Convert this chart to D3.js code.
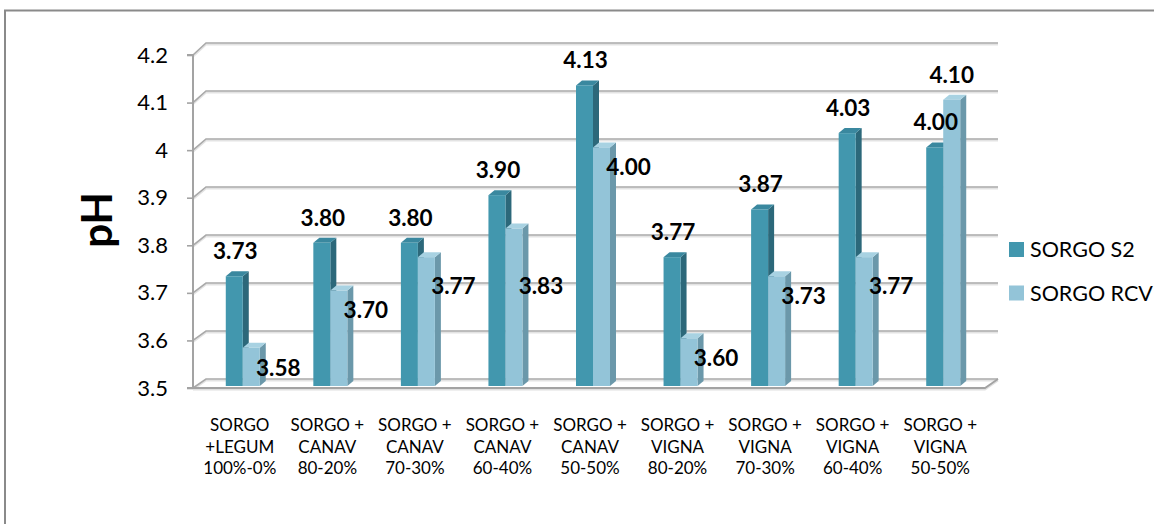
<!DOCTYPE html>
<html>
<head>
<meta charset="utf-8">
<script src="https://cdn.jsdelivr.net/npm/d3@7"></script>
<style>
  html, body { margin: 0; padding: 0; background: #fff; }
  svg { display: block; }
  text { font-family: Lato, "Open Sans", sans-serif; fill: #000; }
</style>
</head>
<body>
<svg id="chart" width="1154" height="524"></svg>
<script>
// Treatments (one entry per column group; lines of the axis label)
const categories = [
  ["SORGO", "+LEGUM", "100%-0%"],
  ["SORGO +", "CANAV", "80-20%"],
  ["SORGO +", "CANAV", "70-30%"],
  ["SORGO +", "CANAV", "60-40%"],
  ["SORGO +", "CANAV", "50-50%"],
  ["SORGO +", "VIGNA", "80-20%"],
  ["SORGO +", "VIGNA", "70-30%"],
  ["SORGO +", "VIGNA", "60-40%"],
  ["SORGO +", "VIGNA", "50-50%"]
];
const seriesNames = ["SORGO S2", "SORGO RCV"];
const s2Values  = [3.73, 3.80, 3.80, 3.90, 4.13, 3.77, 3.87, 4.03, 4.00];
const rcvValues = [3.58, 3.70, 3.77, 3.83, 4.00, 3.60, 3.73, 3.77, 4.10];
const yTicks = [3.5, 3.6, 3.7, 3.8, 3.9, 4.0, 4.1, 4.2];
const yTickLabels = ["3.5", "3.6", "3.7", "3.8", "3.9", "4", "4.1", "4.2"];
const yTitle = "pH";

const svg = d3.select("#chart");

// Outer chart border (top and left edges visible)
svg.append("path")
  .attr("d", "M5,524 V10.5 H1154")
  .attr("fill", "none").attr("stroke", "#8a8a8a").attr("stroke-width", 2);

// Oblique 3D frame: front plane and back wall
const frontX = 193, backX = 206, wallRight = 998, floorRight = 985;
const yFront = d3.scaleLinear().domain([3.5, 4.2]).range([388, 55]);
const yBack  = d3.scaleLinear().domain([3.5, 4.2]).range([379, 43]);
const yBar   = d3.scaleLinear().domain([3.5, 4.2]).range([386, 52]);
const x = d3.scaleBand().domain(d3.range(categories.length)).range([199, 987]);

const grid = svg.append("g").attr("fill", "none");
yTicks.forEach(t => {
  const d = `M${frontX},${yFront(t)} L${backX},${yBack(t)} H${wallRight}`;
  grid.append("path").attr("d", d).attr("transform", "translate(0,1.5)")
    .attr("stroke", "#e3e3e3").attr("stroke-width", 2);
  grid.append("path").attr("d", d).attr("stroke", "#a9a9a9").attr("stroke-width", 1.6);
});

// Floor front edge
const floorPath = `M${frontX},${yFront(3.5)} H${floorRight} L${wallRight},${yBack(3.5)}`;
grid.append("path").attr("d", floorPath).attr("transform", "translate(0,1.5)")
  .attr("stroke", "#e0e0e0").attr("stroke-width", 2);
grid.append("path").attr("d", floorPath).attr("stroke", "#a3a3a3").attr("stroke-width", 1.8);

// Vertical axis with ticks and labels
const axis = d3.axisLeft(yFront)
  .tickValues(yTicks)
  .tickFormat((d, i) => yTickLabels[i])
  .tickSize(6)
  .tickPadding(19);
const axisG = svg.append("g").attr("transform", `translate(${frontX},0)`).call(axis);
axisG.select(".domain").attr("stroke", "#a3a3a3").attr("stroke-width", 2)
  .attr("d", `M-6,${yFront(4.2)}H0V${yFront(3.5)}H-6`);
axisG.selectAll(".tick line").attr("stroke", "#a3a3a3").attr("stroke-width", 1.6);
axisG.selectAll(".tick text")
  .style("font-family", "Lato, sans-serif").style("font-size", "22px").attr("fill", "#000");

// Axis title
svg.append("text")
  .attr("transform", "translate(112,220) rotate(-90)")
  .attr("text-anchor", "middle")
  .style("font-size", "42px").style("font-weight", "bold")
  .text(yTitle);

// 3D columns
const barW = 17, depthX = 6, depthY = 5;
const palette = [
  { front: "#4297ae", side: "#2c687a", top: "#3a889f" },
  { front: "#93c4d8", side: "#6b98aa", top: "#a8d2e2" }
];

function drawColumn(g, x0, v, c) {
  const yt = yBar(v), yb = yBar(3.5);
  const x1 = x0 + barW;
  g.append("path").attr("fill", c.side)
    .attr("d", `M${x1},${yt} L${x1 + depthX},${yt - depthY} V${yb - depthY} L${x1},${yb} Z`);
  g.append("path").attr("fill", c.top)
    .attr("d", `M${x0},${yt} L${x0 + depthX},${yt - depthY} H${x1 + depthX} L${x1},${yt} Z`);
  g.append("rect").attr("fill", c.front)
    .attr("x", x0).attr("y", yt).attr("width", barW).attr("height", yb - yt);
}

const bars = svg.append("g");
categories.forEach((cat, i) => {
  const cx = x(i) + x.bandwidth() / 2;
  drawColumn(bars, cx - barW, s2Values[i], palette[0]);
  drawColumn(bars, cx, rcvValues[i], palette[1]);
});

// Value labels
const labels = svg.append("g")
  .style("font-size", "22.5px").style("font-weight", "bold")
  .attr("text-anchor", "middle");
const lowBand = yBar(3.71);
categories.forEach((cat, i) => {
  const cx = x(i) + x.bandwidth() / 2;
  const s2 = s2Values[i], rcv = rcvValues[i];
  labels.append("text")
    .attr("x", cx - barW / 2 + 1).attr("y", yBar(s2) - 25)
    .attr("dy", "0.35em").text(s2.toFixed(2));
  let lx, ly;
  if (rcv >= s2) {
    lx = cx + barW / 2;
    ly = yBar(rcv) - 25;
  } else {
    lx = cx + barW / 2 + 27;
    ly = yBar(rcv) + 20;
    // short columns keep their labels in a common band under the 3.7 line
    if (rcv < 3.9) ly = Math.max(ly, lowBand);
  }
  labels.append("text").attr("x", lx).attr("y", ly).attr("dy", "0.35em").text(rcv.toFixed(2));
});

// Category labels
const catG = svg.append("g").style("font-size", "17px").attr("text-anchor", "middle");
categories.forEach((lines, i) => {
  const t = catG.append("text").attr("x", x(i) + x.bandwidth() / 2 - 3).attr("y", 431);
  lines.forEach((ln, j) => {
    t.append("tspan").attr("x", x(i) + x.bandwidth() / 2 - 3).attr("y", 431 + j * 21.7).text(ln);
  });
});

// Legend
const legend = svg.append("g");
seriesNames.forEach((name, i) => {
  const y0 = 242 + i * 43.5;
  legend.append("rect").attr("x", 1009).attr("y", y0).attr("width", 15).attr("height", 15)
    .attr("fill", palette[i].front);
  legend.append("text").attr("x", 1030).attr("y", y0 + 15).style("font-size", "21.5px").text(name);
});
</script>
</body>
</html>
